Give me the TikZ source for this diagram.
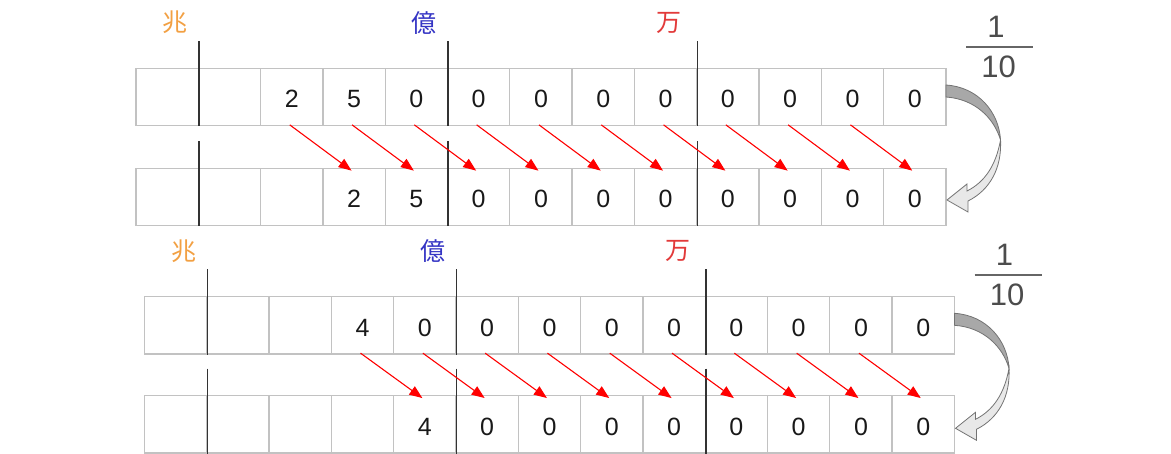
\documentclass[tikz,border=0pt]{standalone}
\usepackage{fontspec}
\setmainfont{Liberation Sans}
\newfontfamily\jpfont{Noto Sans CJK JP}
\usetikzlibrary{arrows.meta}

\definecolor{choC}{HTML}{F2A043}
\definecolor{okuC}{HTML}{3434C4}
\definecolor{manC}{HTML}{E23A3A}
\definecolor{gridC}{HTML}{C2C2C2}
\definecolor{bandDark}{HTML}{A8A8A8}
\definecolor{bandLight}{HTML}{E8E8E8}

\begin{document}
\begin{tikzpicture}[x=1pt, y=-1pt,
  cell/.style={draw=gridC, line width=1.3pt, minimum width=62.3pt, minimum height=57.4pt, inner sep=0pt, text height=21.5pt, text depth=0pt, text=black!90, font=\fontsize{25}{25}\selectfont},
  div/.style={draw=black!80, line width=1.5pt},
  unit/.style={inner sep=0pt, font=\jpfont\fontsize{25}{25}\selectfont},
  shiftarr/.style={draw=red, line width=1.1pt, -{Triangle[length=13pt,width=10pt]}},
  fracnum/.style={inner sep=0pt, text=black!70, font=\fontsize{31}{31}\selectfont},
  fracbar/.style={draw=black!60, line width=1.6pt},
  band/.style={draw=black!55, line width=0.8pt}
]
\useasboundingbox (0,0) rectangle (1171,453);

% upper example: 250 oku -> 25 oku
\foreach \d [count=\i from 0] in {{},{},2,5,0,0,0,0,0,0,0,0,0}
  \node[cell] (a\i) at ({136+62.3*(\i+.5)},97) {\d};
\foreach \d [count=\i from 0] in {{},{},{},2,5,0,0,0,0,0,0,0,0}
  \node[cell] (b\i) at ({136+62.3*(\i+.5)},197) {\d};

% lower example: 40 oku -> 4 oku
\foreach \d [count=\i from 0] in {{},{},{},4,0,0,0,0,0,0,0,0,0}
  \node[cell] (c\i) at ({144.5+62.3*(\i+.5)},325.3) {\d};
\foreach \d [count=\i from 0] in {{},{},{},{},4,0,0,0,0,0,0,0,0}
  \node[cell] (d\i) at ({144.5+62.3*(\i+.5)},424.4) {\d};

% unit dividers
\foreach \r in {a,b,c,d}
  \foreach \k in {0,4,8}
    \draw[div] ([yshift=26.5pt]\r\k.north east) -- (\r\k.south east);

% unit names
\node[unit, text=choC] (cho1) at ([xshift=8pt,yshift=45pt]a0.north) {兆};
\node[unit, text=okuC] (oku1) at ([xshift=8pt,yshift=45pt]a4.north) {億};
\node[unit, text=manC] (man1) at ([xshift=3.5pt,yshift=45pt]a8.north) {万};
\node[unit, text=choC] (cho2) at ([xshift=8pt,yshift=45pt]c0.north) {兆};
\node[unit, text=okuC] (oku2) at ([xshift=8pt,yshift=45pt]c4.north) {億};
\node[unit, text=manC] (man2) at ([xshift=3.5pt,yshift=45pt]c8.north) {万};

% each digit moves one place down
\foreach \i [evaluate=\i as \j using int(\i+1)] in {2,...,11}
  \draw[shiftarr] ([xshift=-2pt,yshift=1.5pt]a\i.south) -- ([xshift=-2.5pt,yshift=-3pt]b\j.north);
\foreach \i [evaluate=\i as \j using int(\i+1)] in {3,...,11}
  \draw[shiftarr] ([xshift=-2pt,yshift=1.5pt]c\i.south) -- ([xshift=-2.5pt,yshift=-3pt]d\j.north);

% 1/10 and the curved arrow
\foreach \n/\dx/\dy in {1/0/0, 2/8.5/228.3} {
  \begin{scope}[shift={(\dx,\dy)}]
    \node[fracnum] (one\n) at (996,26.5) {1};
    \node[fracnum] (ten\n) at (998.5,66.7) {10};
    \draw[fracbar] (966,46.7) -- (1033,46.7);
    \filldraw[band, fill=bandDark] (946,85) .. controls (978,87) and (999,112) .. (1000.5,140)
      .. controls (994,118) and (975,99) .. (946,97) -- cycle;
    \filldraw[band, fill=bandLight] (1000.5,140) .. controls (1002,168) and (990,190) .. (968,201)
      -- (968,212) -- (947,200) -- (967,184) -- (967,191)
      .. controls (985,182) and (996,165) .. (1000.5,140) -- cycle;
  \end{scope}
}
\end{tikzpicture}
\end{document}
